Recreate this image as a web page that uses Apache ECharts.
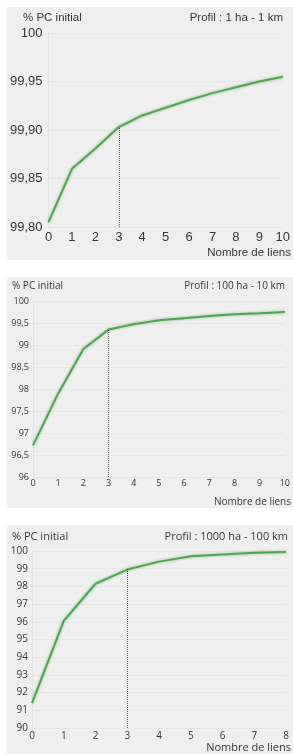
<!DOCTYPE html>
<html>
<head>
<meta charset="utf-8">
<script src="https://cdn.jsdelivr.net/npm/echarts@6/dist/echarts.min.js"></script>
<style>
  body { margin: 0; background: #fff; width: 293px; height: 754px; position: relative; overflow: hidden; }
  .panel { position: absolute; left: 7px; width: 286px; background: #efefef; }
</style>
</head>
<body>
<div id="c1" class="panel" style="top:7px;height:253px"></div>
<div id="c2" class="panel" style="top:277px;height:231px"></div>
<div id="c3" class="panel" style="top:525px;height:229px"></div>
<script>
// données
const yName = '% PC initial'
const xName = 'Nombre de liens'

const profil1 = 'Profil : 1 ha - 1 km'
const liens1 = [0, 1, 2, 3, 4, 5, 6, 7, 8, 9, 10]
const pc1 = [99.805, 99.86, 99.881, 99.903, 99.915, 99.923, 99.931, 99.938, 99.944, 99.950, 99.955]
const yTicks1 = [99.80, 99.85, 99.90, 99.95, 100]

const profil2 = 'Profil : 100 ha - 10 km'
const liens2 = [0, 1, 2, 3, 4, 5, 6, 7, 8, 9, 10]
const pc2 = [96.72, 97.9, 98.91, 99.35, 99.47, 99.56, 99.61, 99.66, 99.70, 99.72, 99.75]
const yTicks2 = [96, 96.5, 97, 97.5, 98, 98.5, 99, 99.5, 100]

const profil3 = 'Profil : 1000 ha - 100 km'
const liens3 = [0, 1, 2, 3, 4, 5, 6, 7, 8]
const pc3 = [91.4, 96.05, 98.15, 98.95, 99.4, 99.7, 99.8, 99.9, 99.95]
const yTicks3 = [90, 91, 92, 93, 94, 95, 96, 97, 98, 99, 100]

const seuil = 3 // nombre de liens retenu (ligne pointillée)

function fmt(dec) {
  return function (v) {
    if (Math.abs(v - Math.round(v)) < 1e-9) return String(Math.round(v))
    return v.toFixed(dec).replace('.', ',')
  }
}

function drawPanel(id, o) {
  const chart = echarts.init(document.getElementById(id))
  const ticks = o.yTicks
  const txt = '#363636'
  chart.setOption({
    backgroundColor: '#efefef',
    animation: false,
    textStyle: { fontFamily: o.font },
    grid: o.grid,
    xAxis: {
      type: 'value',
      min: 0,
      max: o.liens[o.liens.length - 1],
      interval: 1,
      axisLine: { show: false },
      axisTick: { show: false },
      splitLine: { show: false },
      axisLabel: { color: txt, fontSize: o.tickSize, margin: o.xMargin, fontFamily: o.font }
    },
    yAxis: {
      type: 'value',
      min: ticks[0],
      max: ticks[ticks.length - 1],
      interval: ticks[1] - ticks[0],
      axisLine: { show: true, lineStyle: { color: '#e2e2e2' } },
      axisTick: { show: false },
      splitLine: { lineStyle: { color: '#e6e6e6' } },
      axisLabel: { color: txt, fontSize: o.ySize, margin: o.yMargin, formatter: fmt(o.dec), fontFamily: o.font }
    },
    series: [{
      type: 'line',
      data: o.liens.map((x, i) => [x, o.pc[i]]),
      symbol: 'none',
      lineStyle: { color: '#4fa552', width: 2, shadowBlur: 3, shadowColor: 'rgba(70,160,70,0.6)' },
      markLine: {
        silent: true,
        symbol: 'none',
        label: { show: false },
        lineStyle: { type: 'dotted', color: '#555', width: 1 },
        data: [[{ coord: [seuil, ticks[0]] }, { coord: [seuil, o.pc[o.liens.indexOf(seuil)]] }]]
      }
    }],
    graphic: [
      { type: 'text', x: o.tl[0], y: o.tl[1], style: { text: yName, fill: txt, font: o.titleSize + 'px ' + o.font, textVerticalAlign: 'middle' } },
      { type: 'text', x: o.tr[0], y: o.tr[1], style: { text: o.profil, fill: txt, font: o.titleSize + 'px ' + o.font, textAlign: 'right', textVerticalAlign: 'middle' } },
      { type: 'text', x: o.xn[0], y: o.xn[1], style: { text: xName, fill: txt, font: o.titleSize + 'px ' + o.font, textAlign: 'right', textVerticalAlign: 'middle' } }
    ]
  })
}

drawPanel('c1', {
  liens: liens1, pc: pc1, yTicks: yTicks1, profil: profil1, dec: 2,
  font: '"Liberation Sans", Arial, sans-serif',
  grid: { left: 40, right: 8, top: 26, bottom: 33 },
  tickSize: 13, ySize: 13, titleSize: 11.5, xMargin: 4, yMargin: 6,
  tl: [16, 11], tr: [276, 11], xn: [284, 246]
})

drawPanel('c2', {
  liens: liens2, pc: pc2, yTicks: yTicks2, profil: profil2, dec: 1,
  font: '"Open Sans", sans-serif',
  grid: { left: 26, right: 8, top: 24, bottom: 31 },
  tickSize: 9, ySize: 9, titleSize: 10, xMargin: 2, yMargin: 4,
  tl: [5, 9], tr: [278, 9], xn: [284, 225]
})

drawPanel('c3', {
  liens: liens3, pc: pc3, yTicks: yTicks3, profil: profil3, dec: 0,
  font: '"Open Sans", sans-serif',
  grid: { left: 25, right: 7, top: 26, bottom: 26 },
  tickSize: 10, ySize: 10, titleSize: 11, xMargin: 3, yMargin: 4,
  tl: [5, 12], tr: [281, 12], xn: [284, 223]
})
</script>
</body>
</html>
